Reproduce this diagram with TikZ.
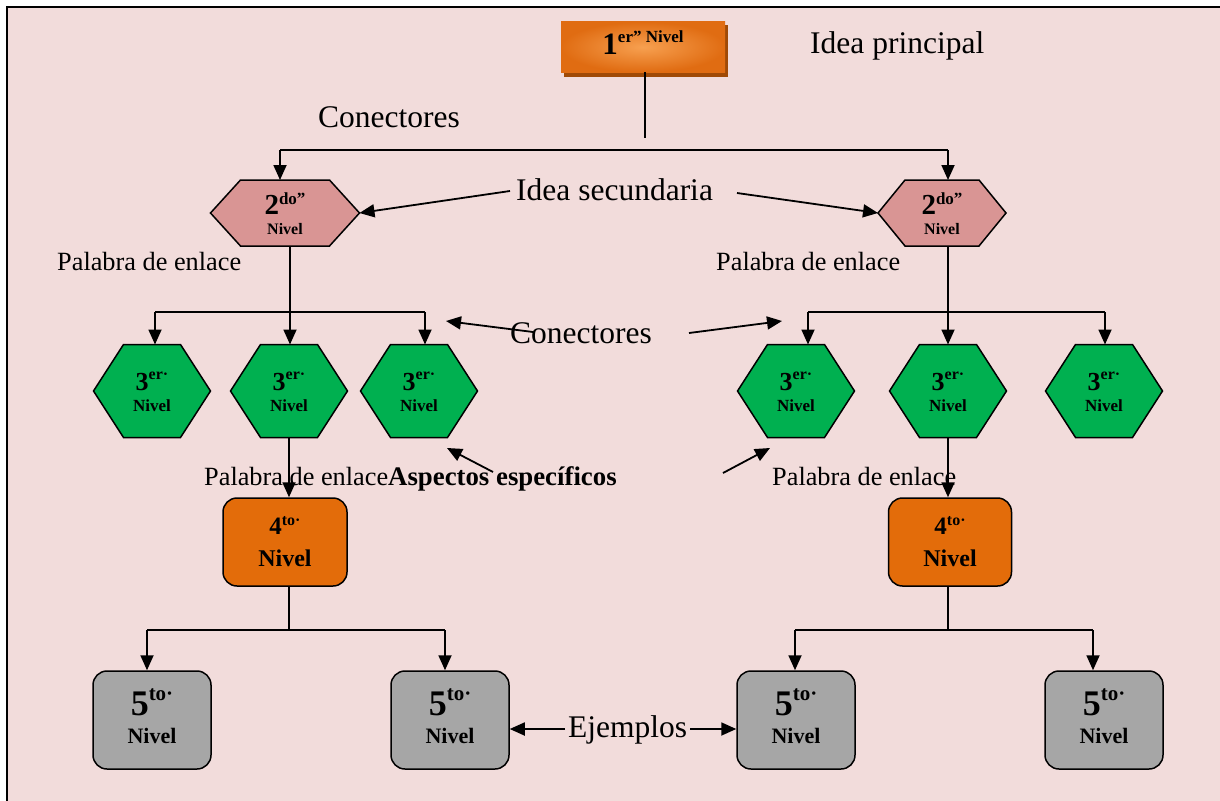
\documentclass[tikz,border=0pt]{standalone}
\usepackage{fontspec}
\setmainfont{Liberation Serif}
\usetikzlibrary{arrows.meta,calc}
\definecolor{bg}{HTML}{F2DCDB}
\definecolor{pinkhex}{HTML}{D99594}
\definecolor{greenhex}{HTML}{00B050}
\definecolor{orangebox}{HTML}{E36C0A}
\definecolor{graybox}{HTML}{A6A6A6}
\definecolor{orlight}{HTML}{F7A050}
\definecolor{ordark}{HTML}{E06C12}
\definecolor{orshadow}{HTML}{A04A06}
\newcommand\hexn[7]{%
  \node[minimum width=#4pt, minimum height=#5pt, inner sep=0pt, outer sep=0pt] (#1) at (#2,#3) {};
  \filldraw[shapeline, fill=#7] ($(#1.north west)+(#6,0)$) -- ($(#1.north east)+(-#6,0)$) -- (#1.east) -- ($(#1.south east)+(-#6,0)$) -- ($(#1.south west)+(#6,0)$) -- (#1.west) -- cycle;}
\newcommand\lvtxt[6]{{\bfseries\fontsize{#1}{#1}\selectfont #4}\raisebox{#3pt}{\bfseries\fontsize{#2}{#2}\selectfont #5}}
\tikzset{
  conn/.style={line width=1.8pt, draw=black},
  arr/.style={conn, -{Triangle[length=15pt,width=13pt]}},
  shapeline/.style={line width=1.5pt, draw=black, line join=miter},
  rbox/.style={draw=black, line width=1.5pt, rounded corners=14pt, inner sep=0pt},
  big/.style={font=\fontsize{31.5}{36}\selectfont, inner sep=3pt},
  mid/.style={font=\fontsize{26.3}{30}\selectfont, inner sep=2pt},
  lbl/.style={anchor=base, inner sep=0pt},
}
\begin{document}
\begin{tikzpicture}[x=1pt,y=-1pt]
\useasboundingbox (0,0) rectangle (1220,800);
\fill[white] (0,0) rectangle (1220,800);
\fill[bg] (7,7) rectangle (1222,802);
\draw[line width=2.5pt] (7,802) -- (7,7) -- (1222,7);

% level 1
\fill[orshadow] (564,25) rectangle (728,77);
\node[minimum width=164pt, minimum height=50pt, inner sep=0pt, shading=radial, inner color=orlight, outer color=ordark] (n1) at (643,47) {};
\node[lbl] at (643,55) {\lvtxt{31}{17}{12}{1}{er” Nivel}{}};

% level 2
\hexn{h2l}{285}{213}{149}{66}{30}{pinkhex}
\hexn{h2r}{942}{213}{128}{66}{27}{pinkhex}
\node[lbl] at (285,214) {\lvtxt{29}{17}{10}{2}{do”}{}};
\node[lbl] at (285,234) {\bfseries\fontsize{16}{16}\selectfont Nivel};
\node[lbl] at (942,214) {\lvtxt{29}{17}{10}{2}{do”}{}};
\node[lbl] at (942,234) {\bfseries\fontsize{16}{16}\selectfont Nivel};

% level 3
\hexn{g1}{152}{391}{117}{93}{30}{greenhex}
\hexn{g2}{289}{391}{117}{93}{30}{greenhex}
\hexn{g3}{419}{391}{117}{93}{30}{greenhex}
\hexn{g4}{796}{391}{117}{93}{30}{greenhex}
\hexn{g5}{948}{391}{117}{93}{30}{greenhex}
\hexn{g6}{1104}{391}{117}{93}{30}{greenhex}
\foreach \x in {152,289,419,796,948,1104}{
  \node[lbl] at (\x,390) {\lvtxt{26}{16}{11}{3}{er·}{}};
  \node[lbl] at (\x,411) {\bfseries\fontsize{17}{17}\selectfont Nivel};
}

% level 4
\node[rbox, fill=orangebox, minimum width=124pt, minimum height=88pt] (f1) at (285,542) {};
\node[rbox, fill=orangebox, minimum width=123pt, minimum height=88pt] (f2) at (950,542) {};
\foreach \x in {285,950}{
  \node[lbl] at (\x,534) {\lvtxt{25}{16}{9}{4}{to·}{}};
  \node[lbl] at (\x,566) {\bfseries\fontsize{24}{24}\selectfont Nivel};
}

% level 5
\node[rbox, fill=graybox, minimum width=118pt, minimum height=98pt] (e1) at (152,720) {};
\node[rbox, fill=graybox, minimum width=118pt, minimum height=98pt] (e2) at (450,720) {};
\node[rbox, fill=graybox, minimum width=118pt, minimum height=98pt] (e3) at (796,720) {};
\node[rbox, fill=graybox, minimum width=118pt, minimum height=98pt] (e4) at (1104,720) {};
\foreach \x in {152,450,796,1104}{
  \node[lbl] at (\x,715) {\lvtxt{36}{21}{15}{5}{to·}{}};
  \node[lbl] at (\x,743) {\bfseries\fontsize{22}{22}\selectfont Nivel};
}

% connectors level 1 -> 2
\coordinate (k1) at (645,138);
\draw[conn] (n1.south -| k1) -- (k1);
\coordinate (bL) at (280,150);
\coordinate (bR) at (948,150);
\draw[conn] (bL) -- (bR);
\draw[arr] (bL) -- (bL |- h2l.north);
\draw[arr] (bR) -- (bR |- h2r.north);

% level 2 -> 3 (left)
\coordinate (m1) at (290,312);
\coordinate (l1) at (155,312);
\coordinate (l3) at (425,312);
\draw[conn] (h2l.south -| m1) -- (m1);
\draw[conn] (l1) -- (l3);
\draw[arr] (l1) -- (l1 |- g1.north);
\draw[arr] (m1) -- (m1 |- g2.north);
\draw[arr] (l3) -- (l3 |- g3.north);

% level 2 -> 3 (right)
\coordinate (m2) at (948,312);
\coordinate (r1) at (808,312);
\coordinate (r3) at (1105,312);
\draw[conn] (h2r.south -| m2) -- (m2);
\draw[conn] (r1) -- (r3);
\draw[arr] (r1) -- (r1 |- g4.north);
\draw[arr] (m2) -- (m2 |- g5.north);
\draw[arr] (r3) -- (r3 |- g6.north);

% level 3 -> 4
\draw[arr] (g2.south) -- (g2.south |- f1.north);
\draw[arr] (g5.south) -- (g5.south |- f2.north);

% level 4 -> 5
\coordinate (q1) at (289,630);
\coordinate (p1) at (147,630);
\coordinate (p2) at (445,630);
\draw[conn] (f1.south -| q1) -- (q1);
\draw[conn] (p1) -- (p2);
\draw[arr] (p1) -- (p1 |- e1.north);
\draw[arr] (p2) -- (p2 |- e2.north);
\coordinate (q2) at (948,630);
\coordinate (p3) at (795,630);
\coordinate (p4) at (1093,630);
\draw[conn] (f2.south -| q2) -- (q2);
\draw[conn] (p3) -- (p4);
\draw[arr] (p3) -- (p3 |- e3.north);
\draw[arr] (p4) -- (p4 |- e4.north);

% labels
\node[big, anchor=base west, inner sep=0pt] (ip) at (810,53) {Idea principal};
\node[big, anchor=base west, inner sep=0pt] (co1) at (318,127) {Conectores};
\node[big, anchor=base west, inner sep=0pt] (ids) at (516,200) {Idea secundaria};
\node[mid, anchor=base west, inner sep=0pt] (pe1) at (57,270) {Palabra de enlace};
\node[mid, anchor=base west, inner sep=0pt] (pe2) at (716,270) {Palabra de enlace};
\node[big, anchor=base west, inner sep=0pt] (co2) at (510,343) {Conectores};
\node[mid, anchor=base west, inner sep=0pt] (pe3) at (204,485) {Palabra de enlace\textbf{\fontsize{26.8}{30}\selectfont Aspectos específicos}};
\node[mid, anchor=base west, inner sep=0pt] (pe4) at (772,485) {Palabra de enlace};
\node[big, anchor=base west, inner sep=0pt] (ej) at (568,737) {Ejemplos};

% label arrows
\coordinate (s1) at (510,191);
\coordinate (s2) at (737,193);
\draw[arr] (s1) -- (h2l.east);
\draw[arr] (s2) -- (h2r.west);
\coordinate (c1) at (533,332);
\coordinate (c1t) at (446,321);
\coordinate (c2) at (689,333);
\coordinate (c2t) at (782,321);
\draw[arr] (c1) -- (c1t);
\draw[arr] (c2) -- (c2t);
\coordinate (a1) at (493,472);
\coordinate (a1t) at (447,448);
\coordinate (a2) at (723,473);
\coordinate (a2t) at (770,448);
\draw[arr] (a1) -- (a1t);
\draw[arr] (a2) -- (a2t);
\coordinate (x1) at (565,729);
\coordinate (x2) at (690,729);
\draw[arr] (x1) -- (x1 -| e2.east);
\draw[arr] (x2) -- (x2 -| e3.west);
\end{tikzpicture}
\end{document}
